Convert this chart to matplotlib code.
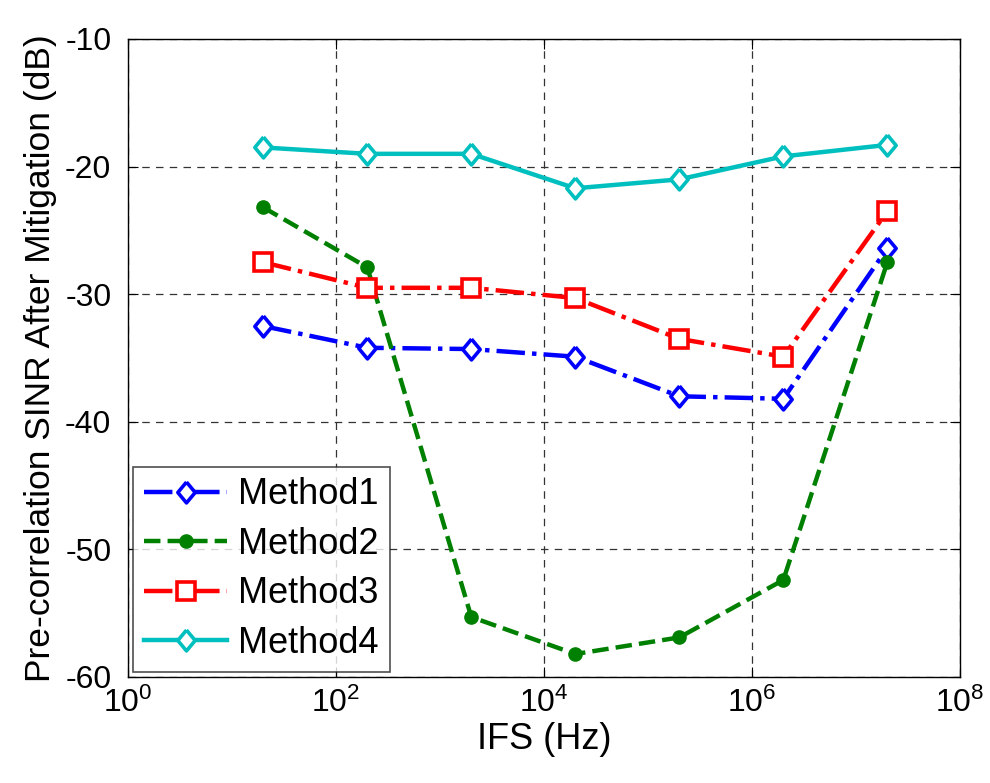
import matplotlib
matplotlib.use("Agg")
import matplotlib.pyplot as plt

plt.rcParams['font.family'] = ['Liberation Sans', 'DejaVu Sans']
plt.rcParams['mathtext.fontset'] = 'custom'
plt.rcParams['mathtext.rm'] = 'Liberation Sans'
plt.rcParams['mathtext.it'] = 'Liberation Sans'
plt.rcParams['axes.unicode_minus'] = False

ifs = [2e1, 2e2, 2e3, 2e4, 2e5, 2e6, 2e7]
method1 = [-32.5, -34.2, -34.3, -34.9, -38.0, -38.2, -26.4]
method2 = [-23.2, -27.9, -55.3, -58.2, -56.9, -52.4, -27.5]
method3 = [-27.5, -29.5, -29.5, -30.3, -33.5, -34.9, -23.5]
method4 = [-18.5, -19.0, -19.0, -21.7, -21.0, -19.2, -18.3]

# matlab style diamond (a bit taller than wide)
diamond = [(0, 1.2), (1, 0), (0, -1.2), (-1, 0), (0, 1.2)]

fig = plt.figure(figsize=(9.9, 7.83), dpi=100)
ax = fig.add_axes([0.1293, 0.1354, 0.8404, 0.8148])

ax.plot(ifs, method1, color='blue', linestyle='-.', lw=3.2, marker=diamond, ms=15,
        mfc='white', mec='blue', mew=2.6, label='Method1')
ax.plot(ifs, method2, color='green', linestyle='--', lw=3.2, marker='o', ms=9.5,
        mfc='green', mec='green', label='Method2')
ax.plot(ifs, method3, color='red', linestyle='-.', lw=3.2, marker='s', ms=12.5,
        mfc='white', mec='red', mew=2.6, label='Method3')
ax.plot(ifs, method4, color='#00BFBF', linestyle='-', lw=3.2, marker=diamond, ms=15,
        mfc='white', mec='#00BFBF', mew=2.6, label='Method4')

ax.set_xscale('log')
ax.set_xlim(1, 1e8)
ax.set_ylim(-60, -10)
ax.set_xticks([1e0, 1e2, 1e4, 1e6, 1e8])
ax.set_xticks([], minor=True)
ax.set_yticks([-60, -50, -40, -30, -20, -10])
ax.grid(True, color='#333333', linestyle=(0, (6, 5)), lw=0.9)
ax.tick_params(labelsize=23, direction='in', length=7, top=True, right=True)
ax.tick_params(axis='y', pad=12)
ax.tick_params(axis='x', pad=8)
ax.set_xlabel('IFS (Hz)', fontsize=26, labelpad=2)
ax.set_ylabel('Pre-correlation SINR After Mitigation (dB)', fontsize=25.5, labelpad=6)
for s in ax.spines.values():
    s.set_linewidth(1)

leg = ax.legend(loc='lower left', fontsize=26, frameon=True, fancybox=False,
                edgecolor='#222222', handlelength=2.3, handletextpad=0.3,
                borderaxespad=0.15, borderpad=0.3, labelspacing=0.4,
                markerscale=1.0)
leg.get_frame().set_linewidth(1.2)

fig.savefig('out.png', dpi=100)
